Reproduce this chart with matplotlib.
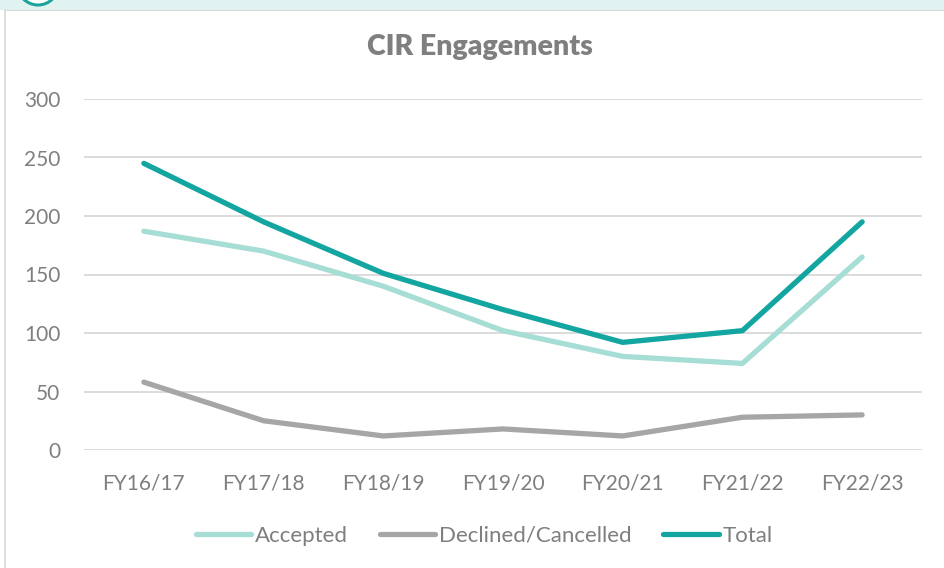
import matplotlib.pyplot as plt
from matplotlib.patches import Rectangle, Circle
from matplotlib.lines import Line2D

years = ["FY16/17", "FY17/18", "FY18/19", "FY19/20", "FY20/21", "FY21/22", "FY22/23"]
accepted = [187, 170, 140, 102, 80, 74, 165]
declined = [58, 25, 12, 18, 12, 28, 30]
total = [245, 195, 151, 120, 92, 102, 195]

plt.rcParams["font.family"] = ["Lato", "DejaVu Sans"]
text_grey = "#7f7f7f"

W, H = 944, 568
fig = plt.figure(figsize=(W / 100, H / 100), dpi=100)
fig.patch.set_facecolor("white")

# page decoration: teal band at the top, panel border, ring icon
fig.patches.append(Rectangle((0, 1 - 10 / H), 1, 10 / H, transform=fig.transFigure,
                             facecolor="#e1f3f1", edgecolor="none", zorder=0))
fig.lines.append(Line2D([5 / W, 5 / W], [0, 1 - 10 / H], transform=fig.transFigure,
                        color="#d9d9d9", lw=1.2))
fig.lines.append(Line2D([5 / W, 1], [1 - 10 / H, 1 - 10 / H], transform=fig.transFigure,
                        color="#d9d9d9", lw=0.8))
fig.patches.append(Circle((38, H + 15.5), 20.5, transform=None, facecolor="white",
                          edgecolor="#1ba39c", lw=2.2, zorder=1))

ax = fig.add_axes([84 / W, 1 - 450 / H, (922 - 84) / W, (450 - 99) / H])
x = range(len(years))
ax.plot(x, accepted, color="#a6ddd4", lw=3.8, solid_capstyle="round", label="Accepted")
ax.plot(x, declined, color="#a6a6a6", lw=3.8, solid_capstyle="round", label="Declined/Cancelled")
ax.plot(x, total, color="#13a59f", lw=3.8, solid_capstyle="round", label="Total")

ax.set_xlim(-0.5, 6.5)
ax.set_ylim(0, 300)
ax.set_yticks(range(0, 301, 50))
ax.set_xticks(list(x))
ax.set_xticklabels(years)
ax.grid(axis="y", color="#d9d9d9", lw=1.3)
ax.set_axisbelow(True)
for s in ax.spines.values():
    s.set_visible(False)
ax.tick_params(axis="y", length=0, pad=17, labelsize=15, labelcolor=text_grey)
ax.tick_params(axis="x", length=0, pad=17, labelsize=15, labelcolor=text_grey)

fig.text(480 / W, 1 - 47 / H, "CIR Engagements", ha="center", va="center",
         fontsize=20.5, fontweight="heavy", color=text_grey)

fig.legend(loc="center", bbox_to_anchor=(484 / W, 1 - 536 / H), ncol=3, frameon=False,
           fontsize=16, labelcolor=text_grey, handlelength=2.5, handletextpad=0.15,
           columnspacing=1.45)

fig.savefig("out.png", dpi=100)
